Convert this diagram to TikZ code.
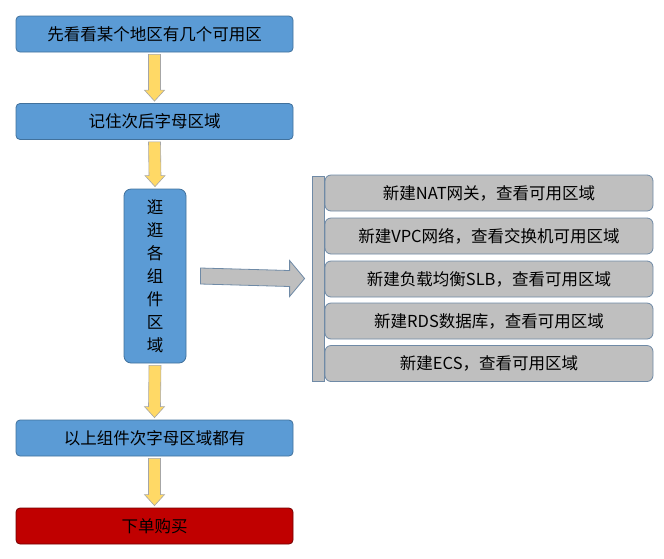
\documentclass[tikz,border=0pt]{standalone}
\usepackage{fontspec}
\newfontfamily\cjk{Noto Sans CJK SC}
\usetikzlibrary{calc}
\definecolor{bfill}{HTML}{5B9BD5}
\definecolor{bline}{HTML}{41719C}
\definecolor{gfill}{HTML}{BFBFBF}
\definecolor{gline}{HTML}{6F8AA6}
\definecolor{yfill}{HTML}{FFD966}
\definecolor{rfill}{HTML}{C00000}
\begin{document}
\begin{tikzpicture}[x=1pt,y=-1pt,font=\cjk\fontsize{16.5}{19}\selectfont,
 bbox/.style={draw=bline,fill=bfill,rounded corners=4pt,line width=0.8pt,minimum width=277pt,minimum height=36pt,inner sep=0pt},
 gbox/.style={draw=gline,fill=gfill,rounded corners=6pt,line width=0.8pt,minimum width=328pt,minimum height=36pt,inner sep=0pt},
 yarr/.style={draw=gray!70,fill=yfill,line width=0.6pt}]
\useasboundingbox (0,0) rectangle (664,558);
\node[bbox] (a) at (154.5,34) {先看看某个地区有几个可用区};
\node[bbox] (b) at (154.5,121.5) {记住次后字母区域};
\node[bbox,minimum width=62pt,minimum height=174pt,rounded corners=7pt,align=center,font=\cjk\fontsize{16.5}{23}\selectfont] (c) at (155,276) {逛\\逛\\各\\组\\件\\区\\域};
\node[bbox] (d) at (154.5,438) {以上组件次字母区域都有};
\node[bbox,fill=rfill,draw=rfill!60!black] (e) at (154.5,526) {下单购买};
\foreach \p/\q in {a/b,b/c,c/d,d/e}{
 \draw[yarr] ($(\p.south)+(-6,2)$) -- ($(\q.north)+(-6,-13)$) -- ($(\q.north)+(-10,-13)$) -- ($(\q.north)+(0,-2)$) -- ($(\q.north)+(10,-13)$) -- ($(\q.north)+(6,-13)$) -- ($(\p.south)+(6,2)$) -- cycle;}
\node[draw=gline,fill=gfill,line width=0.8pt,minimum width=12pt,minimum height=205pt,inner sep=0pt] (bar) at (318,278.5) {};
\node[gbox] (g1) at (489,193) {新建NAT网关，查看可用区域};
\node[gbox] (g2) at (489,236) {新建VPC网络，查看交换机可用区域};
\node[gbox] (g3) at (489,279) {新建负载均衡SLB，查看可用区域};
\node[gbox] (g4) at (489,321) {新建RDS数据库，查看可用区域};
\node[gbox] (g5) at (489,363.5) {新建ECS，查看可用区域};
\draw[draw=gline,fill=gfill,line width=0.8pt] ($(c.east)+(14,-8)$) -- ($(bar.west)+(-22,-8)$) -- ($(bar.west)+(-22,-18)$) -- ($(bar.west)+(-7,0)$) -- ($(bar.west)+(-22,18)$) -- ($(bar.west)+(-22,8)$) -- ($(c.east)+(14,8)$) -- cycle;
\end{tikzpicture}
\end{document}
